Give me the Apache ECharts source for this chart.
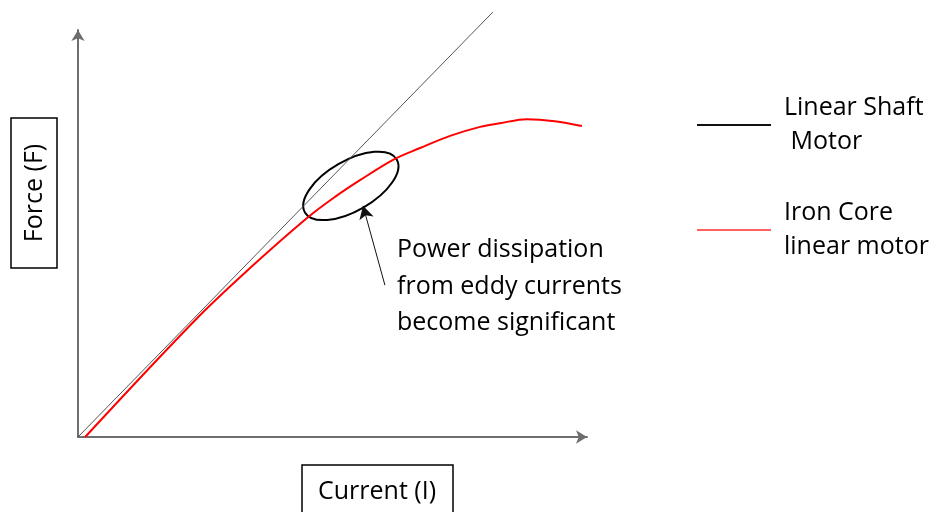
<!DOCTYPE html>
<html>
<head>
<meta charset="utf-8">
<script src="https://cdn.jsdelivr.net/npm/echarts@6/dist/echarts.min.js"></script>
<style>
  html, body { margin: 0; padding: 0; background: #fff; }
  #main { width: 936px; height: 512px; }
</style>
</head>
<body>
<div id="main"></div>
<script>
// ---------------- data ----------------
// Current (I) / Force (F) on a 0..100 scale, no ticks shown
var seriesNames = ['Linear Shaft\n Motor', 'Iron Core\nlinear motor'];

// linear shaft motor: straight line through the origin
var shaftLine = [[0, 0], [81.5, 104.4]];

// iron core motor: follows the line, then saturates
var ironCore = [
    [1.4, 0], [23.0, 28.7], [33.8, 41.5], [45.0, 53.8], [50.5, 59.0],
    [55.4, 63.1], [61.9, 68.1], [67.2, 71.0], [73.1, 74.0], [79.0, 76.2],
    [82.9, 77.1], [88.2, 78.1], [93.7, 77.6], [99.0, 76.4]
];

// annotation: ellipse centre + arrow (data coords)
var ellipseCentre = [53.6, 61.7];
var arrowFrom = [60.3, 37.3];
var arrowTo = [56.0, 56.8];
var noteText = 'Power dissipation\nfrom eddy currents\nbecome significant';

var FONT = '"Open Sans", "Noto Sans", sans-serif';
var FSIZE = 25;

var chart = echarts.init(document.getElementById('main'));

var axisLineStyle = {
    show: true,
    symbol: ['none', 'arrow'],
    symbolSize: [10, 11],
    lineStyle: { color: '#6e6e6e', width: 2 }
};

var option = {
    animation: false,
    grid: { left: 78, top: 30, width: 509, height: 407 },
    xAxis: {
        type: 'value', min: 0, max: 100,
        axisLine: axisLineStyle,
        axisTick: { show: false }, axisLabel: { show: false }, splitLine: { show: false }
    },
    yAxis: {
        type: 'value', min: 0, max: 100,
        axisLine: axisLineStyle,
        axisTick: { show: false }, axisLabel: { show: false }, splitLine: { show: false }
    },
    legend: {
        orient: 'vertical',
        left: 692, top: 86,
        itemWidth: 74, itemHeight: 2,
        itemGap: 37,
        textStyle: {
            fontFamily: FONT, fontSize: FSIZE, color: '#000',
            lineHeight: 34, padding: [0, 0, 0, 8]
        },
        data: [
            { name: seriesNames[0], icon: 'rect', itemStyle: { color: '#111' } },
            { name: seriesNames[1], icon: 'rect', itemStyle: { color: '#ff6060' } }
        ]
    },
    series: [
        {
            name: seriesNames[0],
            type: 'line',
            data: shaftLine,
            showSymbol: false,
            clip: false,
            lineStyle: { color: '#555', width: 1 },
            itemStyle: { color: '#000' }
        },
        {
            name: seriesNames[1],
            type: 'line',
            data: ironCore,
            smooth: 0.35,
            showSymbol: false,
            clip: false,
            lineStyle: { color: '#ff0000', width: 2 },
            itemStyle: { color: '#ff0000' },
            markLine: {
                silent: true,
                symbol: ['none', 'arrow'],
                symbolSize: [11, 13],
                label: { show: false },
                lineStyle: { color: '#111', width: 1, type: 'solid' },
                data: [[{ coord: arrowFrom }, { coord: arrowTo }]]
            }
        }
    ]
};

chart.setOption(option);

// ---------------- annotations (graphic) ----------------
var c = chart.convertToPixel({ gridIndex: 0 }, ellipseCentre);

chart.setOption({
    graphic: [
        // ellipse around the knee
        {
            type: 'ellipse',
            x: c[0], y: c[1],
            rotation: Math.PI / 6,
            shape: { cx: 0, cy: 0, rx: 53, ry: 25 },
            style: { fill: 'none', stroke: '#000', lineWidth: 2 }
        },
        // note text
        {
            type: 'text',
            left: 397, top: 232,
            style: { text: noteText, font: FSIZE + 'px ' + FONT, fill: '#000', lineHeight: 36.5 }
        },
        // y axis name in a box
        {
            type: 'rect',
            shape: { x: 11, y: 118, width: 46, height: 150 },
            style: { fill: 'none', stroke: '#000', lineWidth: 1.5 }
        },
        {
            type: 'text',
            x: 35, y: 193,
            rotation: Math.PI / 2,
            style: { text: 'Force (F)', font: FSIZE + 'px ' + FONT, fill: '#000', align: 'center', verticalAlign: 'middle' }
        },
        // x axis name in a box
        {
            type: 'rect',
            shape: { x: 302, y: 465, width: 151, height: 60 },
            style: { fill: 'none', stroke: '#000', lineWidth: 1.5 }
        },
        {
            type: 'text',
            x: 377, y: 492,
            style: { text: 'Current (I)', font: FSIZE + 'px ' + FONT, fill: '#000', align: 'center', verticalAlign: 'middle' }
        }
    ]
});
</script>
</body>
</html>
